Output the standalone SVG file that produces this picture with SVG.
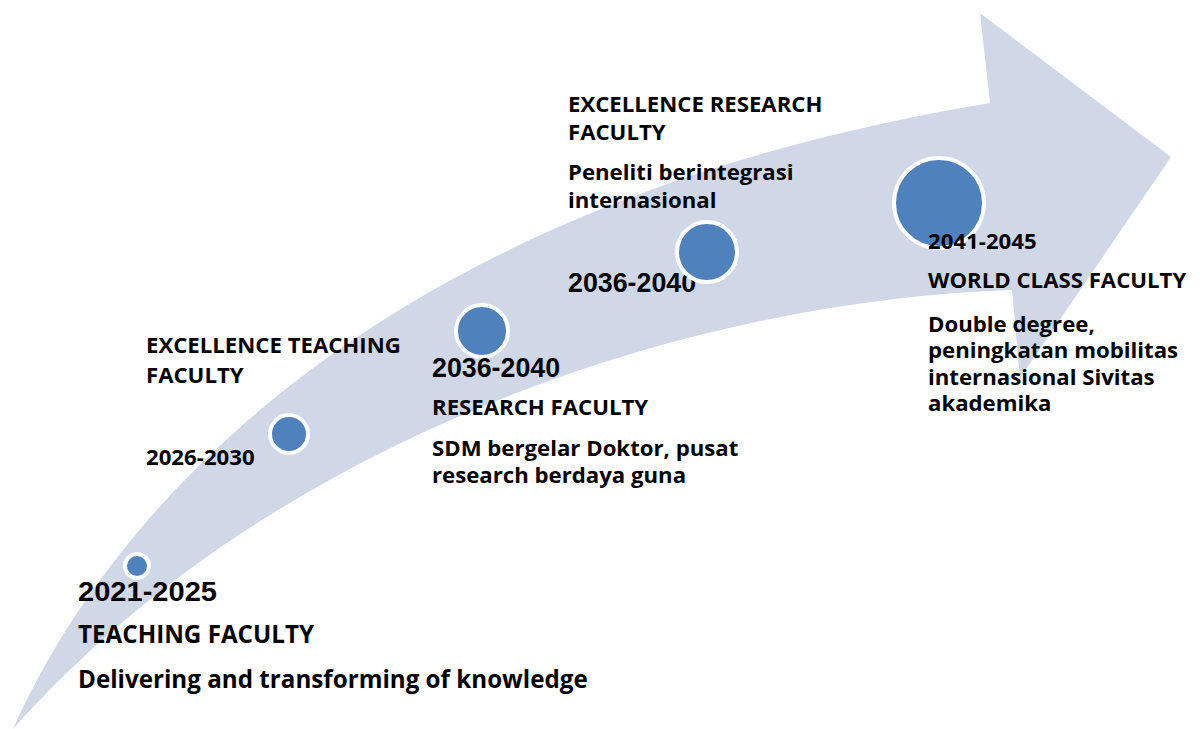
<svg xmlns="http://www.w3.org/2000/svg" width="1200" height="729" viewBox="0 0 1200 729">
  <style>
    .band { fill: #D0D8E8; }
    .dot { fill: #4F81BD; stroke: #FFFFFF; stroke-width: 4; }
    .t { font-family: "Open Sans", Lato, sans-serif; font-weight: bold; font-size: 22.2px; fill: #000000; }
    .big { font-size: 24.2px; }
    .yr { font-family: "Liberation Sans", Arial, sans-serif; font-weight: bold; font-size: 26.8px; fill: #000000; }
  </style>
  <rect width="1200" height="729" fill="#FFFFFF"/>

  <!-- curved roadmap arrow -->
  <g id="arrow">
    <path class="band" d="M 13 729 C 120 490, 400 200, 990 103 L 980 13 L 1171 157 L 1020 378 L 1012 290 C 700 300, 280 430, 13 729 Z"/>
  </g>

  <g id="connectors"/>

  <!-- stage 1 -->
  <g id="stage-2021">
    <circle class="dot" cx="137" cy="566" r="12"/>
    <text class="yr" x="78" y="601" textLength="139" lengthAdjust="spacingAndGlyphs">2021-2025</text>
    <text class="t big" x="78" y="643">TEACHING FACULTY</text>
    <text class="t big" x="78" y="688">Delivering and transforming of knowledge</text>
  </g>

  <!-- stage 2 -->
  <g id="stage-2026">
    <circle class="dot" cx="289" cy="434" r="19"/>
    <text class="t" x="146" y="353">EXCELLENCE TEACHING</text>
    <text class="t" x="146" y="383">FACULTY</text>
    <text class="t" x="146" y="465">2026-2030</text>
  </g>

  <!-- stage 3 -->
  <g id="stage-2036a">
    <circle class="dot" cx="482" cy="331" r="26"/>
    <text class="yr" x="432" y="377">2036-2040</text>
    <text class="t" x="432" y="415">RESEARCH FACULTY</text>
    <text class="t" x="432" y="456">SDM bergelar Doktor, pusat</text>
    <text class="t" x="432" y="483">research berdaya guna</text>
  </g>

  <!-- stage 4 -->
  <g id="stage-2036b">
    <text class="t" x="568" y="112">EXCELLENCE RESEARCH</text>
    <text class="t" x="568" y="140">FACULTY</text>
    <text class="t" x="568" y="180">Peneliti berintegrasi</text>
    <text class="t" x="568" y="208">internasional</text>
    <text class="yr" x="568" y="292">2036-2040</text>
    <circle class="dot" cx="707" cy="252" r="30"/>
  </g>

  <!-- stage 5 -->
  <g id="stage-2041">
    <circle class="dot" cx="939" cy="203" r="45"/>
    <text class="t" x="928" y="249">2041-2045</text>
    <text class="t" x="928" y="288">WORLD CLASS FACULTY</text>
    <text class="t" x="928" y="332">Double degree,</text>
    <text class="t" x="928" y="358">peningkatan mobilitas</text>
    <text class="t" x="928" y="385">internasional Sivitas</text>
    <text class="t" x="928" y="411">akademika</text>
  </g>
</svg>
